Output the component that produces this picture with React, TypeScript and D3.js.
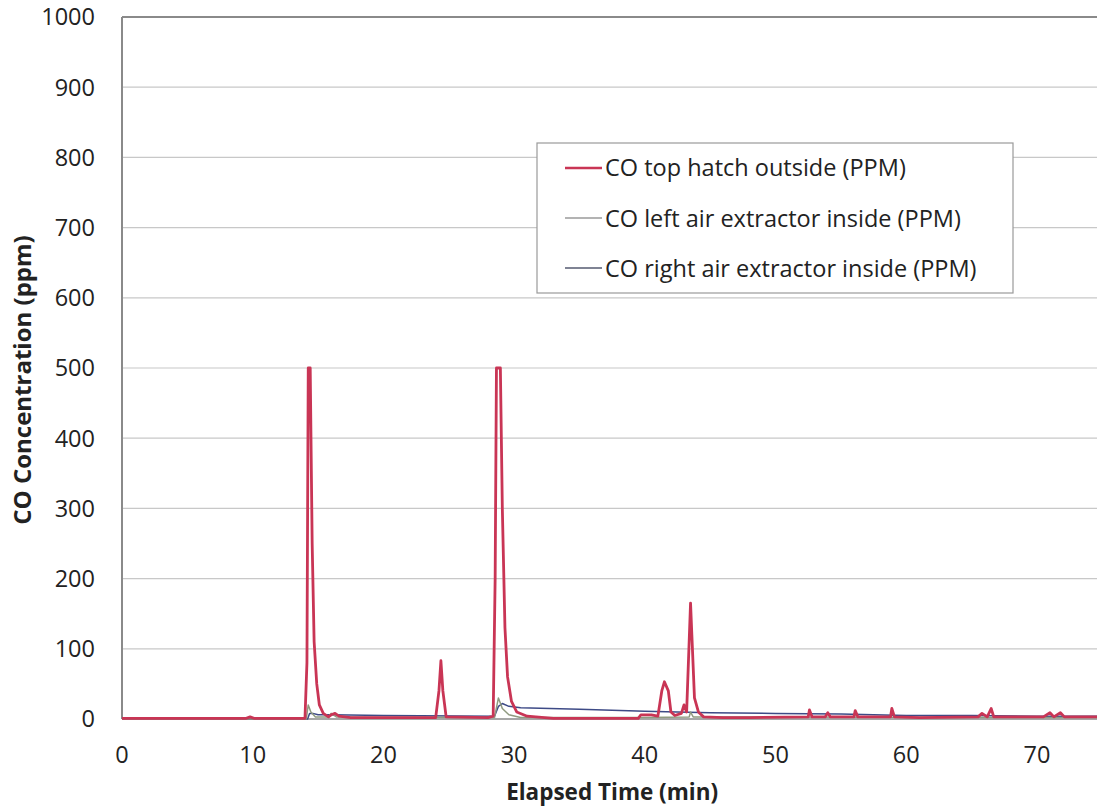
import React from "react";
import * as d3 from "d3";

const yTicks = [0, 100, 200, 300, 400, 500, 600, 700, 800, 900, 1000];
const xTicks = [0, 10, 20, 30, 40, 50, 60, 70];

const topHatchT = [0, 9.5, 9.8, 10.1, 14.0, 14.15, 14.25, 14.4, 14.55, 14.7, 14.9, 15.1, 15.4, 15.8, 16.0, 16.3, 16.6, 17.5, 24.0, 24.25, 24.4, 24.55, 24.8, 28.0, 28.4, 28.55, 28.65, 28.95, 29.1, 29.3, 29.5, 29.8, 30.2, 31, 33, 39.5, 39.7, 40.5, 41.0, 41.3, 41.5, 41.8, 42.0, 42.3, 42.8, 43.0, 43.2, 43.5, 43.6, 43.8, 44.1, 44.5, 46, 48, 52.5, 52.6, 52.8, 53.8, 54, 54.2, 56, 56.1, 56.3, 58.8, 58.9, 59.1, 61, 65.5, 65.8, 66.2, 66.5, 66.7, 70.5, 71, 71.3, 71.8, 72.1, 75];
const topHatchV = [1, 1, 3, 1, 1, 80, 500, 500, 250, 110, 50, 20, 8, 3, 6, 8, 4, 2, 2, 40, 83, 40, 3, 2, 4, 200, 500, 500, 300, 130, 60, 25, 10, 4, 1, 1, 6, 6, 4, 40, 53, 40, 10, 5, 8, 20, 10, 165, 120, 30, 10, 3, 2, 2, 3, 13, 3, 3, 9, 3, 3, 12, 3, 3, 15, 3, 2, 3, 8, 3, 15, 3, 3, 9, 3, 9, 3, 3];

const leftT = [0, 14.1, 14.25, 14.45, 14.8, 15.8, 16.0, 16.4, 28.5, 28.8, 29.1, 29.6, 30.5, 40, 43.4, 43.5, 43.7, 75];
const leftV = [0, 0, 20, 10, 3, 3, 8, 3, 2, 30, 15, 6, 2, 2, 3, 10, 3, 2];

const rightT = [0, 14.2, 14.35, 14.6, 15, 16, 20, 28.5, 28.8, 29.1, 29.6, 30.5, 35, 40, 45, 50, 55, 60, 65, 70, 75];
const rightV = [0, 0, 8, 8, 6, 6, 5, 4, 18, 22, 18, 16, 14, 11, 9, 8, 7, 5, 5, 4, 4];

const seriesNames = [
  "CO top hatch outside (PPM)",
  "CO left air extractor inside (PPM)",
  "CO right air extractor inside (PPM)",
];
const seriesColors = ["#c93555", "#8f9a80", "#3d4a86"];
const legendColors = ["#c93555", "#9a9a9a", "#555a70"];

export default function App() {
  const W = 1097, H = 809;
  const left = 122, top = 17, bottom = 719;
  const x = d3.scaleLinear().domain([0, 75]).range([left, left + 75 * 13.07]);
  const y = d3.scaleLinear().domain([0, 1000]).range([bottom, top]);
  const line = d3.line<[number, number]>().x(d => x(d[0])).y(d => y(d[1]));
  const zip = (t: number[], v: number[]) => t.map((tt, i) => [tt, v[i]] as [number, number]);
  const series = [zip(topHatchT, topHatchV), zip(leftT, leftV), zip(rightT, rightV)];
  const widths = [2.8, 1.5, 1.5];
  const font = "'Open Sans', sans-serif";
  const legendX = 537, legendY = 143;
  const xMid = (x.range()[0] + x.range()[1]) / 2;
  return (
    <svg width={W} height={H} style={{ position: "absolute", left: 0, top: 0, background: "#fff" }} fontFamily={font}>
      <rect x={0} y={0} width={W} height={H} fill="#fff" />
      {yTicks.map(t => (
        <g key={t}>
          {t > 0 && <line x1={left} x2={W + 10} y1={y(t)} y2={y(t)} stroke={t === 1000 ? "#8a8a8a" : "#c8c8c8"} strokeWidth={t === 1000 ? 2 : 1.2} />}
          <text x={95} y={y(t)} dy="0.36em" textAnchor="end" fontSize={23.5} fill="#222">{t}</text>
        </g>
      ))}
      <line x1={left} x2={left} y1={top} y2={bottom} stroke="#8a8a8a" strokeWidth={2} />
      <line x1={left} x2={W + 10} y1={bottom} y2={bottom} stroke="#8a8a8a" strokeWidth={1.5} />
      {xTicks.map(t => (
        <text key={t} x={x(t)} y={763} textAnchor="middle" fontSize={23.5} fill="#222">{t}</text>
      ))}
      {[2, 1, 0].map(i => (
        <path key={i} d={line(series[i]) || ""} fill="none" stroke={seriesColors[i]} strokeWidth={widths[i]} strokeLinejoin="round" />
      ))}
      <text x={xMid} y={800} textAnchor="middle" fontSize={22.5} fontWeight="bold" fill="#222">Elapsed Time (min)</text>
      <text transform={`translate(31,380) rotate(-90)`} textAnchor="middle" fontSize={24} fontWeight="bold" fill="#222">CO Concentration (ppm)</text>
      <rect x={legendX} y={legendY} width={476} height={150} fill="#fff" stroke="#9a9a9a" strokeWidth={1.2} />
      {seriesNames.map((n, i) => (
        <g key={n}>
          <line x1={565} x2={602} y1={168 + i * 50} y2={168 + i * 50} stroke={legendColors[i]} strokeWidth={i === 0 ? 2.5 : 1.5} />
          <text x={605} y={176 + i * 50.5} fontSize={23.5} fill="#222">{n}</text>
        </g>
      ))}
    </svg>
  );
}
